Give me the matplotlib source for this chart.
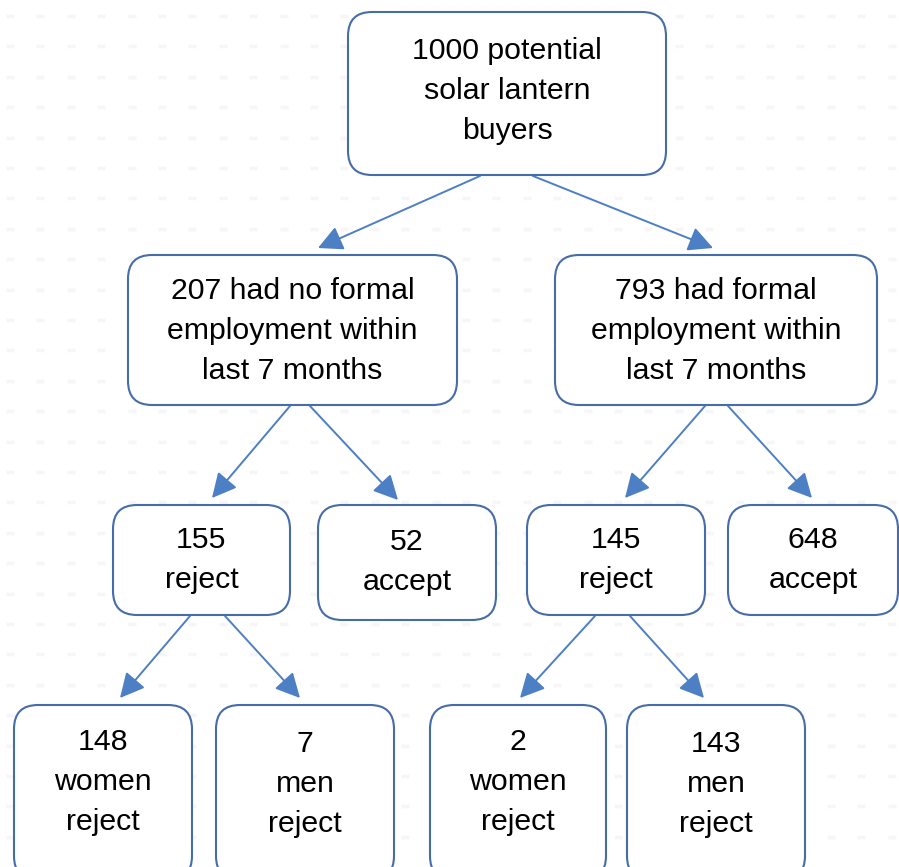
import matplotlib.pyplot as plt
from matplotlib.patches import FancyBboxPatch
import numpy as np

# node values and texts
counts = [1000, 207, 793, 155, 52, 145, 648, 148, 7, 2, 143]
templates = [
    "{} potential\nsolar lantern\nbuyers",
    "{} had no formal\nemployment within\nlast 7 months",
    "{} had formal\nemployment within\nlast 7 months",
    "{}\nreject",
    "{}\naccept",
    "{}\nreject",
    "{}\naccept",
    "{}\nwomen\nreject",
    "{}\nmen\nreject",
    "{}\nwomen\nreject",
    "{}\nmen\nreject",
]
# parent -> child links
edges = [(0, 1), (0, 2), (1, 3), (1, 4), (2, 5), (2, 6), (3, 7), (3, 8), (5, 9), (5, 10)]

# layout in pixels: x0, y0, x1, y1 (y downwards)
boxes = [
    (348, 12, 666, 175),
    (128, 255, 457, 405),
    (555, 255, 877, 405),
    (113, 505, 290, 615),
    (318, 505, 496, 620),
    (527, 505, 705, 615),
    (728, 505, 898, 615),
    (14, 705, 192, 880),
    (216, 705, 394, 880),
    (430, 705, 606, 880),
    (627, 705, 805, 880),
]
text_y = [91, 331, 331, 560, 562, 560, 560, 782, 784, 782, 784]
arrows = [
    ((480, 176), (318, 248)),
    ((533, 176), (713, 248)),
    ((290, 406), (212, 498)),
    ((310, 406), (398, 500)),
    ((705, 406), (625, 498)),
    ((728, 406), (812, 498)),
    ((190, 616), (120, 698)),
    ((225, 616), (300, 698)),
    ((595, 616), (520, 698)),
    ((630, 616), (704, 698)),
]

W, H = 899, 867
fig = plt.figure(figsize=(W / 100, H / 100), dpi=100)
ax = fig.add_axes([0, 0, 1, 1])
ax.set_xlim(0, W)
ax.set_ylim(H, 0)
ax.axis("off")

# faint dashed background grid
gx, gy = np.meshgrid(np.arange(10, W, 30.4), np.arange(16, H, 30.4))
ax.plot(gx.ravel(), gy.ravel(), ls="none", marker="_", ms=6, mew=2.5, color="#f6f6f8", zorder=0)

edge_color = "#466ca9"
arrow_color = "#4d7fc4"

for (x0, y0, x1, y1), c, t, ty in zip(boxes, counts, templates, text_y):
    box = FancyBboxPatch((x0, y0), x1 - x0, y1 - y0,
                         boxstyle="round,pad=0,rounding_size=24",
                         fc="white", ec=edge_color, lw=1.5, zorder=2)
    ax.add_patch(box)
    ax.text((x0 + x1) / 2, ty, t.format(c), ha="center", va="center",
            fontsize=21.8, family="Liberation Sans", linespacing=1.56, zorder=3)

for (p, q), (start, end) in zip(edges, arrows):
    ax.annotate("", xy=end, xytext=start,
                arrowprops=dict(arrowstyle="-|>,head_length=0.75,head_width=0.38",
                                color=arrow_color, lw=1.4, shrinkA=0, shrinkB=0,
                                mutation_scale=20),
                zorder=1)

fig.savefig("out.png", dpi=100)
